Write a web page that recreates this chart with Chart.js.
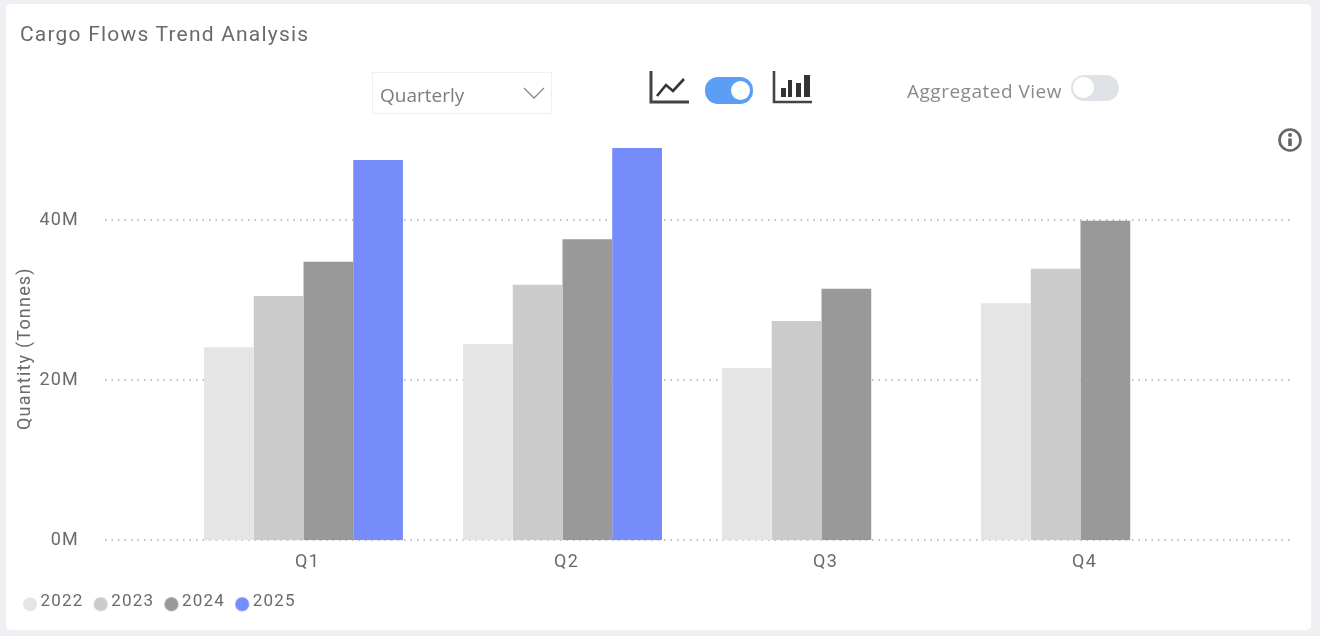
<!DOCTYPE html>
<html>
<head>
<meta charset="utf-8">
<script src="https://cdn.jsdelivr.net/npm/chart.js@4"></script>
<style>
  html, body { margin: 0; padding: 0; width: 1320px; height: 636px; overflow: hidden; background: #eef0f3; font-family: Roboto, sans-serif; }
  .card { position: absolute; left: 6px; top: 4px; width: 1305px; height: 626px; background: #fff; border-radius: 5px; }
  canvas { position: absolute; left: 0; top: 0; }
  .title { position: absolute; left: 20px; top: 22px; font-size: 21px; line-height: 24px; color: #6a6a6a; letter-spacing: 1.2px; }
  .dropdown { position: absolute; left: 372px; top: 72px; width: 178px; height: 40px; border: 1px solid #f0f0f0; }
  .dropdown span { position: absolute; left: 7px; top: 10px; font: 19px/24px "Open Sans", sans-serif; color: #7c7c7c; }
  .dropdown svg { position: absolute; left: 150px; top: 13px; }
  .toggle { position: absolute; border-radius: 13px; }
  .toggle i { position: absolute; background: #fff; border-radius: 50%; }
  .on { left: 705px; top: 77px; width: 48px; height: 27px; background: #5c9ef5; }
  .on i { left: 26px; top: 4px; width: 19px; height: 19px; }
  .off { left: 1071px; top: 75px; width: 48px; height: 26px; background: #dfe2e7; }
  .off i { left: 2px; top: 2px; width: 21px; height: 21px; }
  .agg { position: absolute; left: 907px; top: 79px; font: 19px/24px "Open Sans", sans-serif; letter-spacing: 0.5px; color: #8a8a8a; }
  .icon { position: absolute; }
</style>
</head>
<body>
<div class="card"></div>
<canvas id="cargoChart" width="1320" height="636"></canvas>
<div class="title">Cargo Flows Trend Analysis</div>
<div class="dropdown">
  <span>Quarterly</span>
  <svg width="22" height="14"><polyline points="1,2 11,12 21,2" fill="none" stroke="#888" stroke-width="1.3"/></svg>
</div>
<svg class="icon" style="left:649px;top:70px" width="42" height="36">
  <path d="M2 1V32H40" fill="none" stroke="#444" stroke-width="3"/>
  <polyline points="8,26 17,15 24,21 35,9" fill="none" stroke="#333" stroke-width="2.6"/>
</svg>
<div class="toggle on"><i></i></div>
<svg class="icon" style="left:772px;top:70px" width="42" height="36">
  <path d="M2 1V32H40" fill="none" stroke="#444" stroke-width="2.6"/>
  <g fill="#333"><rect x="9" y="18" width="5" height="9"/><rect x="16" y="10" width="4" height="17"/><rect x="24" y="13" width="5" height="14"/><rect x="32" y="5" width="6" height="22"/></g>
</svg>
<div class="agg">Aggregated View</div>
<div class="toggle off"><i></i></div>
<svg class="icon" style="left:1277px;top:127px" width="26" height="26">
  <circle cx="13" cy="13" r="10.5" fill="none" stroke="#666" stroke-width="2.6"/>
  <rect x="11.2" y="11.5" width="3.6" height="7.5" fill="#666"/>
  <circle cx="13" cy="8" r="2" fill="#666"/>
</svg>
<script>
const categories = ['Q1', 'Q2', 'Q3', 'Q4'];
const years = ['2022', '2023', '2024', '2025'];
const values2022 = [24.1, 24.5, 21.5, 29.6];
const values2023 = [30.5, 31.9, 27.4, 33.9];
const values2024 = [34.8, 37.6, 31.4, 39.9];
const values2025 = [47.5, 49, null, null];
const yearColors = ['#e5e5e5', '#cbcbcb', '#999999', '#768cfb'];
const yTicks = [0, 20, 40];

const labelFont = { family: 'Roboto, sans-serif', size: 18 };

// legend dot sits a little lower than its text, so it gets its own small canvas
function makeDot(color) {
  const c = document.createElement('canvas');
  c.width = 16;
  c.height = 22;
  const g = c.getContext('2d');
  g.fillStyle = color;
  g.beginPath();
  g.arc(8, 13, 7, 0, Math.PI * 2);
  g.fill();
  return c;
}
const legendDots = yearColors.map(makeDot);

// labels in the reference are a wide DIN face, so space Roboto out a bit.
// has to be set after Chart.js resizes the canvas, that resets the context
const wideText = {
  id: 'wideText',
  beforeUpdate(chart) {
    chart.ctx.letterSpacing = '1.2px';
  }
};

// Power BI style dotted grid runs wider than the category bands
const wideGrid = {
  id: 'wideGrid',
  beforeDatasetsDraw(chart) {
    const ctx = chart.ctx;
    const yScale = chart.scales.y;
    ctx.save();
    ctx.strokeStyle = '#adadad';
    ctx.lineWidth = 1.3;
    ctx.setLineDash([1.5, 5]);
    yTicks.forEach((t) => {
      const y = Math.round(yScale.getPixelForValue(t));
      ctx.beginPath();
      ctx.moveTo(105, y);
      ctx.lineTo(1293, y);
      ctx.stroke();
    });
    ctx.restore();
  }
};

const cargoCtx = document.getElementById('cargoChart').getContext('2d');
new Chart(cargoCtx, {
  type: 'bar',
  data: {
    labels: categories,
    datasets: [values2022, values2023, values2024, values2025].map((vals, i) => ({
      label: years[i],
      data: vals,
      backgroundColor: yearColors[i],
      categoryPercentage: 0.768,
      barPercentage: 1
    }))
  },
  plugins: [wideText, wideGrid],
  options: {
    responsive: false,
    animation: false,
    layout: { padding: { left: 12.8, right: 110, top: 140, bottom: 15.3 } },
    scales: {
      x: {
        afterFit(scale) { scale.height = 38.3; },
        grid: { display: false },
        border: { display: false },
        ticks: { color: '#6a6a6a', font: labelFont, labelOffset: 4, padding: 3, maxRotation: 0 }
      },
      y: {
        min: 0,
        max: 50,
        // paddingBottom from the tick label otherwise puts a floor under the bottom padding
        afterFit(scale) {
          scale.width = 161.2;
          scale.paddingBottom = 0;
        },
        afterBuildTicks(scale) {
          scale.ticks = yTicks.map((v) => ({ value: v }));
        },
        grid: { display: false },
        border: { display: false },
        ticks: {
          color: '#6a6a6a',
          font: labelFont,
          padding: 87,
          callback: (v) => v + 'M'
        },
        title: {
          display: true,
          // trailing spaces push the centred title a bit below the middle of the axis
          text: 'Quantity (Tonnes)   ',
          color: '#6a6a6a',
          font: labelFont,
          padding: { top: 2.2, bottom: 0 }
        }
      }
    },
    plugins: {
      legend: {
        position: 'bottom',
        align: 'start',
        labels: {
          usePointStyle: true,
          boxWidth: 4,
          boxHeight: 10,
          color: '#6a6a6a',
          font: { family: 'Roboto, sans-serif', size: 17 },
          padding: 15.2,
          generateLabels(chart) {
            return Chart.defaults.plugins.legend.labels.generateLabels(chart).map((item, i) => ({
              ...item,
              pointStyle: legendDots[i]
            }));
          }
        }
      },
      tooltip: { enabled: false }
    }
  }
});
</script>
</body>
</html>
